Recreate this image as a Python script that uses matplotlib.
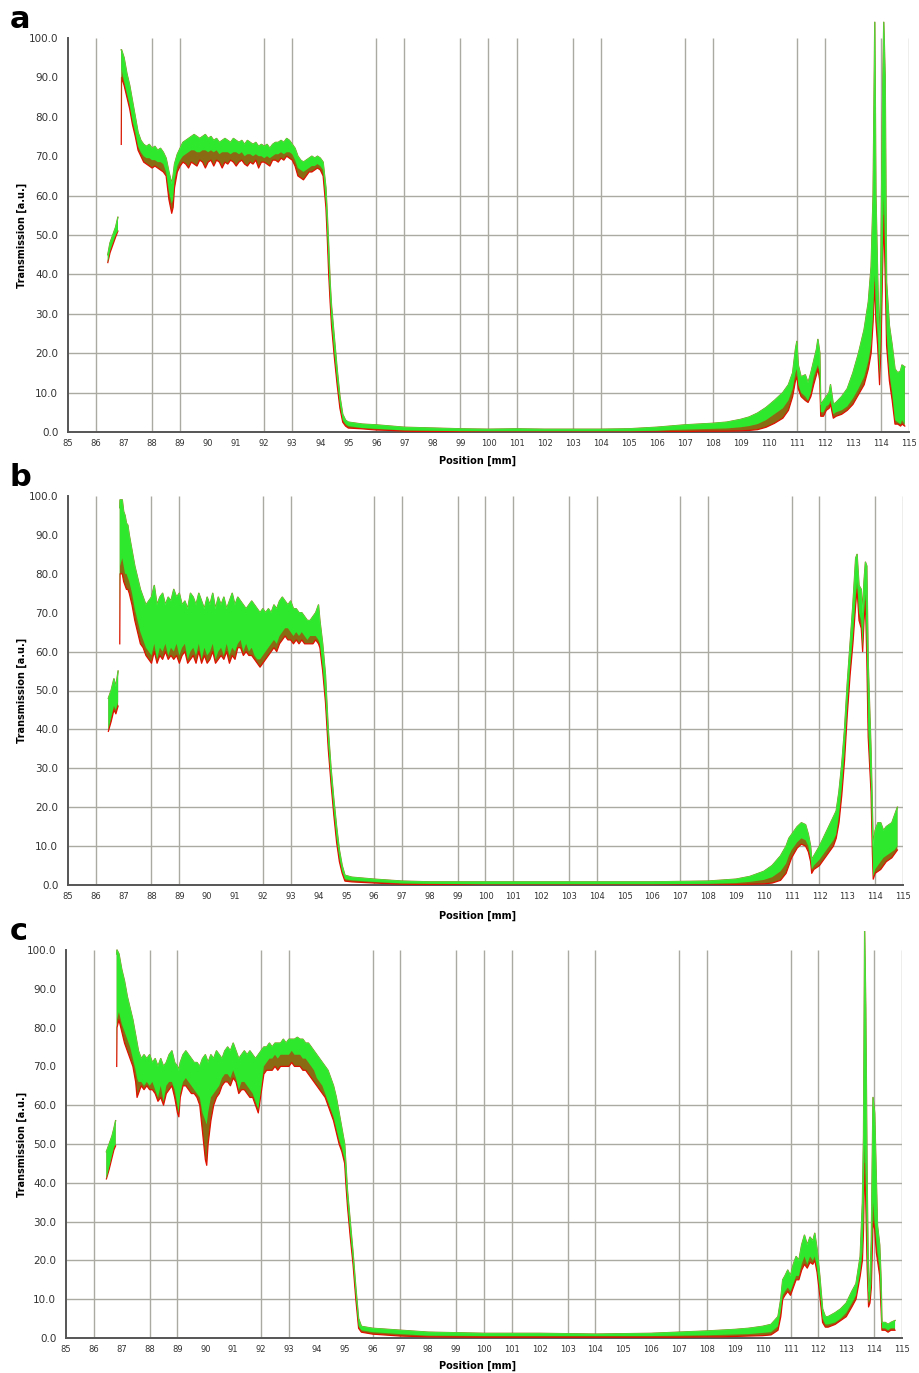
import numpy as np
import matplotlib.pyplot as plt

nan = np.nan

# vertical grid positions (same on all three panels)
grid_x = [86, 88, 89, 92, 93, 96, 97, 99, 100, 101, 103, 104, 107, 108, 111, 112, 114, 115]
grid_y = [10, 20, 30, 40, 50, 60]
x_ticks = list(range(85, 116))
y_ticks = [0, 10, 20, 30, 40, 50, 60, 70, 80, 90, 100]

# ---- panel a ----
a_x = [86.42, 86.5, 86.6, 86.7, 86.78, nan,
       86.9, 86.91, 87.0, 87.1, 87.2, 87.3, 87.4, 87.5, 87.6, 87.7,
       87.8, 87.9, 88.0, 88.1, 88.2, 88.3, 88.4, 88.5, 88.6, 88.7,
       88.75, 88.8, 88.9, 89.0, 89.1, 89.2, 89.3, 89.4, 89.5, 89.6,
       89.7, 89.8, 89.9, 90.0, 90.1, 90.2, 90.3, 90.4, 90.5, 90.6,
       90.7, 90.8, 90.9, 91.0, 91.1, 91.2, 91.3, 91.4, 91.5, 91.6,
       91.7, 91.8, 91.9, 92.0, 92.1, 92.2, 92.3, 92.4, 92.5, 92.6,
       92.7, 92.8, 92.9, 93.0, 93.1, 93.2, 93.3, 93.4, 93.5, 93.6,
       93.7, 93.8, 93.9, 94.0, 94.1, 94.2, 94.25, 94.3, 94.35, 94.4,
       94.5, 94.6, 94.7, 94.8, 94.9, 95.0, 95.5, 96.0, 96.5, 97.0,
       98.0, 99.0, 100.0, 101.0, 102.0, 103.0, 104.0, 105.0, 106.0, 106.5,
       107.0, 107.5, 108.0, 108.5, 109.0, 109.3, 109.6, 109.9, 110.2, 110.5,
       110.7, 110.85, 110.95, 111.0, 111.05, 111.15, 111.3, 111.4, 111.5, 111.6,
       111.7, 111.75, 111.82, 111.85, 111.95, 112.05, 112.15, 112.2, 112.3, 112.4,
       112.6, 112.8, 113.0, 113.2, 113.4, 113.55, 113.65, 113.72, 113.78, 113.82,
       113.88, 113.95, 114.0, 114.05, 114.1, 114.15, 114.2, 114.3, 114.4, 114.5,
       114.6, 114.7, 114.75, 114.85]
a_top = [45, 48, 50, 52, 54.5, nan,
         97, 97, 95, 91, 88, 84, 80, 76, 74, 73,
         72.5, 73, 72, 72.5, 71.5, 72, 71, 69.5, 66, 63,
         65, 68, 70.5, 72, 73.5, 74, 74.5, 75, 75.5, 75,
         74.5, 75, 75.5, 74.5, 75, 74, 74.5, 73.5, 74, 74.5,
         74, 73.5, 74.5, 74, 73.5, 74, 73, 74, 73.5, 73,
         73.5, 72.5, 73, 72.5, 73, 72, 73, 73.5, 73.5, 74,
         73.5, 74.5, 74, 73, 72, 70, 69, 68.5, 69, 69.5,
         70, 69.5, 70, 69.5, 68.5, 62, 55, 47, 38, 32,
         24, 16, 9, 4.5, 3, 2.5, 2, 1.8, 1.5, 1.2,
         1, 0.8, 0.7, 0.8, 0.7, 0.7, 0.7, 0.8, 1.2, 1.5,
         1.8, 2.0, 2.2, 2.5, 3.2, 3.8, 4.8, 6.2, 8.0, 10.0,
         12, 15, 21, 23, 17, 14, 14.5, 12.5, 15, 18,
         21, 23.5, 20, 7, 8, 9, 10, 12, 7, 7.5,
         9, 11, 15, 20, 26, 33, 42, 60, 104, 60,
         40, 20, 45, 80, 104, 90, 38, 27, 22, 16,
         15, 15.5, 17, 16.5]
a_bot = [43, 46, 48, 50, 51, nan,
         73, 92, 89, 86, 83, 79, 76, 72.5, 71, 70,
         69.5, 69.5, 69, 69, 68.5, 68.5, 68, 66, 61, 58,
         59, 64, 67.5, 69, 70, 70.5, 71, 71.5, 71.5, 71,
         71, 71.5, 71.5, 71, 71.5, 71, 71.5, 70.5, 71, 71,
         71, 70.5, 71, 71, 70.5, 71, 70, 70.5, 70.5, 70,
         70.5, 70, 70, 69.5, 70, 69.5, 70, 70.5, 70.5, 71,
         70.5, 71, 71, 70.5, 69, 67, 66.5, 66, 66.5, 67,
         67.5, 67.5, 68, 67.5, 66.5, 58, 50, 42, 34, 28,
         20, 13, 7, 3, 2, 1.5, 1, 0.8, 0.6, 0.4,
         0.3, 0.2, 0.2, 0.2, 0.2, 0.2, 0.2, 0.2, 0.3, 0.5,
         0.6, 0.7, 0.8, 0.9, 1.2, 1.5, 2.0, 3.0, 4.5, 6.0,
         8, 11, 15, 16, 12, 10, 9, 8, 10, 14,
         16, 17, 15, 5, 5, 6.5, 7, 8, 4.5, 5,
         5.5, 6.5, 8.5, 11, 14, 18, 22, 30, 40, 30,
         25, 14, 25, 40, 60, 45, 25, 15, 10, 3,
         2.5, 2, 3, 2]
a_red = [43, 45.5, 47.5, 49.5, 51, nan,
         73, 90, 88, 85, 82, 78, 75, 71.5, 70, 68.5,
         68, 67.5, 67, 67.5, 67, 66.5, 66, 65, 59, 55.5,
         57, 62, 66, 67.5, 68.5, 68, 67, 68.5, 68, 67.5,
         69, 68.5, 67, 68.5, 69, 67.5, 69, 68.5, 67, 68.5,
         68, 69, 68.5, 67.5, 68.5, 69, 68, 67.5, 68.5, 68,
         69, 67, 68.5, 68.5, 68, 67.5, 69, 69, 68.5, 69.5,
         69, 70, 69.5, 69, 67.5, 65, 64.5, 64, 65, 66,
         66, 66.5, 67, 66.5, 65, 57, 49, 40, 33, 27,
         19, 12, 6, 2.5, 1.5, 1, 0.8, 0.5, 0.4, 0.2,
         0.1, 0.1, 0, 0, 0, 0, 0, 0, 0, 0.1,
         0.1, 0.2, 0.2, 0.2, 0.3, 0.4, 0.6, 1.2, 2.2, 3.5,
         5.5, 9, 13, 14, 11, 9, 8, 7.5, 9, 12,
         14.5, 16, 13, 4, 4, 5.5, 6, 7, 3.5, 4,
         4.5, 5.5, 7, 9.5, 12, 16, 20, 28, 38, 28,
         22, 12, 22, 38, 55, 40, 22, 13, 8, 2,
         2, 1.5, 2, 1.5]

# ---- panel b ----
b_x = [86.45, 86.55, 86.65, 86.72, 86.8, nan,
       86.86, 86.87, 86.95, 87.0, 87.05, 87.1, 87.15, 87.2, 87.3, 87.4,
       87.5, 87.6, 87.7, 87.8, 87.9, 88.0, 88.1, 88.2, 88.3, 88.4,
       88.5, 88.6, 88.7, 88.8, 88.9, 89.0, 89.1, 89.2, 89.3, 89.4,
       89.5, 89.6, 89.7, 89.8, 89.9, 90.0, 90.1, 90.2, 90.3, 90.4,
       90.5, 90.6, 90.7, 90.8, 90.9, 91.0, 91.1, 91.2, 91.3, 91.4,
       91.5, 91.6, 91.7, 91.8, 91.9, 92.0, 92.1, 92.2, 92.3, 92.4,
       92.5, 92.6, 92.7, 92.8, 92.9, 93.0, 93.1, 93.2, 93.3, 93.4,
       93.5, 93.6, 93.7, 93.8, 93.9, 94.0, 94.05, 94.15, 94.25, 94.35,
       94.45, 94.55, 94.65, 94.75, 94.85, 94.95, 95.2, 96.0, 97.0, 98.0,
       100, 102, 104, 106, 108, 109, 109.5, 110, 110.3, 110.6,
       110.8, 110.9, 111.0, 111.2, 111.35, 111.5, 111.6, 111.68, 111.72, 111.8,
       112.0, 112.2, 112.4, 112.5, 112.6, 112.7, 112.8, 112.9, 113.0, 113.1,
       113.2, 113.3, 113.35, 113.42, 113.5, 113.55, 113.6, 113.65, 113.7, 113.75,
       113.85, 113.9, 113.93, 114.0, 114.1, 114.2, 114.3, 114.4, 114.5, 114.6,
       114.7, 114.8]
b_top = [48, 50, 53, 51, 55, nan,
         97, 99, 99, 96, 95, 93, 92.5, 90, 86, 82,
         79, 76, 74, 72, 73, 74, 77, 72, 74, 75,
         72, 74, 73, 76, 74, 75, 72, 73, 71, 75,
         74, 72, 75, 73, 71, 74, 72, 75, 71, 74,
         72, 74, 71, 73, 75, 72, 74, 73, 72, 71,
         72, 73, 72, 71, 70, 71, 70, 71, 70, 72,
         71, 73, 74, 73, 72, 73, 71, 71, 70, 70,
         69, 68, 68, 69, 70, 72, 68, 62, 54, 40,
         30, 22, 15, 9, 5, 2.5, 2, 1.5, 1, 0.8,
         0.8, 0.8, 0.8, 0.8, 1, 1.5, 2.2, 3.5, 5, 7.5,
         10, 12, 13, 15, 16, 15.5, 13, 10, 6.5, 7.5,
         10, 13, 16, 17.5, 19, 24, 31, 40, 52, 62,
         72, 84, 85, 77, 76, 70, 78, 83, 82, 57,
         35, 20, 10, 14, 16, 16, 14, 15, 15.5, 16,
         18, 20]
b_bot = [40, 43, 46, 45, 47, nan,
         62, 82, 84, 82, 80, 80, 79, 78, 75, 71,
         68, 65, 63, 61, 60, 59, 62, 58, 61, 60,
         62, 59, 61, 60, 62, 59, 61, 62, 58, 60,
         61, 59, 62, 58, 61, 59, 60, 62, 58, 60,
         61, 59, 62, 59, 61, 60, 62, 63, 60, 62,
         60, 61, 59, 58, 58, 59, 60, 61, 62, 63,
         62, 64, 65, 66, 66, 65, 64, 65, 64, 65,
         64, 63, 64, 64, 64, 63, 62, 56, 48, 36,
         27, 19, 12, 7, 3.5, 1.5, 1.2, 0.8, 0.4, 0.3,
         0.2, 0.2, 0.2, 0.2, 0.3, 0.5, 0.8, 1.3, 2, 3.5,
         5.5, 7.5, 9, 11, 12, 11.5, 10, 7, 4, 5,
         6.5, 8.5, 10.5, 11.5, 13, 18, 25, 34, 46, 56,
         64, 74, 78, 70, 68, 61, 70, 75, 60, 40,
         25, 10, 2, 4, 5, 6, 7, 7.5, 8, 8.5,
         9, 10]
b_red = [39.5, 42, 45, 44, 46, nan,
         62, 80, 80, 78, 77, 76, 76, 75, 72, 68,
         65, 62, 61, 59, 58, 57, 60, 57, 59, 58,
         60, 58, 59, 58, 59, 57, 59, 60, 57, 58,
         59, 57, 60, 57, 59, 57, 58, 60, 57, 58,
         59, 58, 60, 57, 59, 58, 61, 61, 59, 60,
         59, 59, 58, 57, 56, 57, 58, 59, 60, 61,
         60, 62, 63, 64, 63, 63, 62, 63, 62, 63,
         62, 62, 62, 62, 63, 62, 61, 55, 47, 35,
         26, 18, 11, 6, 3, 1, 0.8, 0.5, 0.2, 0.1,
         0, 0, 0, 0, 0, 0.1, 0.2, 0.3, 0.5, 1.2,
         3, 5, 7, 9.5, 10.5, 10, 8.5, 6, 3, 4,
         5, 7, 9, 10, 12, 16, 23, 32, 44, 54,
         62, 72, 76, 68, 66, 60, 68, 73, 58, 38,
         24, 8, 1.5, 3, 3.5, 4, 5, 6, 6.5, 7,
         8, 9]

# ---- panel c ----
c_x = [86.45, 86.55, 86.65, 86.72, 86.78, nan,
       86.82, 86.83, 86.9, 87.0, 87.1, 87.2, 87.3, 87.4, 87.5, 87.55,
       87.6, 87.7, 87.8, 87.9, 88.0, 88.1, 88.2, 88.3, 88.4, 88.5,
       88.6, 88.7, 88.8, 88.9, 89.0, 89.05, 89.1, 89.2, 89.3, 89.4,
       89.5, 89.6, 89.7, 89.8, 89.9, 90.0, 90.05, 90.1, 90.2, 90.3,
       90.4, 90.5, 90.6, 90.7, 90.8, 90.9, 91.0, 91.1, 91.2, 91.3,
       91.4, 91.5, 91.6, 91.7, 91.8, 91.9, 92.0, 92.1, 92.2, 92.3,
       92.4, 92.5, 92.6, 92.7, 92.8, 92.9, 93.0, 93.1, 93.2, 93.3,
       93.4, 93.5, 93.6, 93.7, 93.8, 93.9, 94.0, 94.1, 94.2, 94.3,
       94.4, 94.5, 94.6, 94.7, 94.8, 94.9, 95.0, 95.05, 95.1, 95.2,
       95.3, 95.4, 95.5, 95.6, 96.0, 97.0, 98.0, 100.0, 102.0, 104.0,
       106.0, 107.0, 108.0, 108.5, 109.0, 109.5, 110.0, 110.3, 110.55, 110.65,
       110.72, 110.8, 110.9, 111.0, 111.1, 111.2, 111.3, 111.4, 111.5, 111.6,
       111.7, 111.8, 111.87, 111.95, 112.05, 112.15, 112.25, 112.35, 112.6, 112.8,
       113.0, 113.2, 113.35, 113.5, 113.58, 113.62, 113.66, 113.7, 113.75, 113.8,
       113.85, 113.9, 113.96, 114.02, 114.08, 114.12, 114.2, 114.25, 114.28, 114.4,
       114.5, 114.6, 114.75]
c_top = [48, 50, 52, 54, 56, nan,
         99, 100, 99, 95, 92, 88, 85, 82, 78, 76,
         74, 72, 73, 72, 73, 71, 72, 70, 72, 70,
         71, 73, 74, 71, 70, 69, 71, 73, 74, 73,
         72, 71, 71, 70, 72, 73, 72, 71, 73, 72,
         74, 73, 72, 74, 75, 74, 76, 74, 72, 73,
         74, 73, 74, 73, 72, 73, 74, 75, 75, 76,
         75, 76, 76, 76, 77, 76, 77, 77, 77, 77.5,
         77, 77, 76, 76, 75, 74, 73, 72, 71, 70,
         69, 67, 65, 62, 58, 54, 50, 44, 38, 30,
         22, 13, 5, 3, 2.5, 2, 1.5, 1.2, 1.2, 1,
         1.2, 1.5, 1.8, 2.0, 2.2, 2.5, 3.0, 3.5, 5.5, 10,
         15, 16, 17.5, 16, 19, 21, 20, 24, 26.5, 24,
         26, 25, 27, 23, 16, 7.5, 5.5, 5.5, 6.5, 7.5,
         9, 12, 14, 21, 35, 52, 105, 85, 40, 12,
         15, 25, 62, 58, 40, 29, 24, 15, 4, 4,
         3.5, 4, 4.5]
c_bot = [41, 44, 47, 49, 50, nan,
         70, 82, 84, 81, 79, 77, 75, 72, 69, 67,
         66, 66, 65, 66, 65, 66, 64, 62, 65, 61,
         65, 66, 66, 64, 60, 58, 63, 66, 67, 66,
         65, 64, 63, 62, 58, 56, 55, 58, 62, 63,
         64, 65, 67, 68, 68, 67, 69, 67, 64, 66,
         66, 65, 64, 63, 61, 59, 64, 70, 71, 72,
         72, 73, 72, 73, 73, 73, 73, 74, 73, 73,
         73, 72, 72, 71, 70, 69, 67, 66, 65, 63,
         61, 59, 57, 54, 51, 49, 46, 40, 35, 27,
         20, 11, 3, 2, 1.5, 1, 0.6, 0.5, 0.5, 0.5,
         0.5, 0.6, 0.7, 0.8, 0.9, 1.0, 1.3, 1.5, 3, 7,
         11, 12, 13, 12, 14, 16, 16, 19, 21, 19,
         21, 20, 21, 18, 12, 5, 3.5, 3.5, 4, 5,
         6.5, 9, 11, 17, 22, 30, 50, 40, 20, 9,
         10, 14, 35, 30, 25, 22, 18, 8, 2.5, 2.5,
         2, 2.5, 2.5]
c_red = [41, 43.5, 46.5, 48.5, 49.5, nan,
         70, 80, 82, 79, 76, 74, 72, 70, 66, 62,
         63, 65, 64, 65, 64, 64, 63, 61, 62, 60,
         63, 64, 65, 62, 58, 57, 62, 65, 65, 64,
         63, 63, 62, 60, 53, 46, 44.5, 50, 56, 60,
         62, 63, 65, 66, 66, 65, 67, 66, 63, 64,
         64, 63, 62, 62, 60, 58, 63, 68, 69, 69,
         69, 70, 69, 70, 70, 70, 70, 71, 70, 70,
         70, 69, 69, 68, 67, 66, 65, 64, 63, 62,
         60, 58, 56, 53, 50, 48, 45, 39, 34, 26,
         19, 10, 2.5, 1.5, 1, 0.5, 0.3, 0.2, 0.2, 0.2,
         0.2, 0.2, 0.3, 0.3, 0.4, 0.5, 0.6, 0.8, 2, 5.5,
         10, 11, 12, 11, 13, 15, 15, 17.5, 19, 18,
         19.5, 19, 20, 17, 11, 4, 2.8, 2.8, 3.5, 4.5,
         5.5, 8, 10, 16, 20, 28, 45, 35, 18, 8,
         9, 13, 30, 28, 22, 20, 16, 7, 2, 2,
         1.5, 2, 2]

panels = [
    ("a", [68 / 919, 1 - 432 / 1373, 841 / 919, 105 * 3.94 / 1373], a_x, a_top, a_bot, a_red),
    ("b", [68 / 919, 1 - 885 / 1373, 835 / 919, 105 * 3.89 / 1373], b_x, b_top, b_bot, b_red),
    ("c", [66 / 919, 1 - 1338 / 1373, 836 / 919, 105 * 3.88 / 1373], c_x, c_top, c_bot, c_red),
]

fig = plt.figure(figsize=(9.19, 13.73), dpi=100)

for letter, rect, x, top, bot, red in panels:
    ax = fig.add_axes(rect)
    x = np.array(x, dtype=float)
    top = np.array(top, dtype=float)
    bot = np.array(bot, dtype=float)
    red = np.array(red, dtype=float)

    # grid
    ax.vlines(grid_x, 0, 100, color="#aaaaa2", lw=1.0, zorder=0)
    ax.hlines(grid_y, 85, 115, color="#aaaaa2", lw=1.0, zorder=0)

    # red / brown traces underneath, green traces on top
    ax.fill_between(x, red, top, color="#8a6a12", lw=0, zorder=2)
    ax.plot(x, red, color="#e01000", lw=0.9, zorder=3)
    ax.plot(x, top, color="#8a7a14", lw=1.0, zorder=3)
    ax.fill_between(x, bot, top, color="#2ee82e", lw=0, zorder=4)
    ax.plot(x, top, color="#45f045", lw=0.5, zorder=5)

    ax.set_xlim(85, 115)
    ax.set_ylim(0, 105)
    ax.set_xticks(x_ticks)
    ax.set_xticklabels([str(v) for v in x_ticks])
    ax.set_yticks(y_ticks)
    ax.set_yticklabels([f"{v:.1f}" for v in y_ticks])
    ax.tick_params(axis="y", length=0, labelsize=7.5, colors="#333333", pad=7)
    ax.tick_params(axis="x", length=0, labelsize=6, colors="#333333", pad=5)

    for s in ["top", "right"]:
        ax.spines[s].set_visible(False)
    ax.spines["left"].set_bounds(0, 100)
    ax.spines["left"].set_color("#555555")
    ax.spines["left"].set_linewidth(1.4)
    ax.spines["bottom"].set_color("#555555")
    ax.spines["bottom"].set_linewidth(1.4)
    ax.patch.set_alpha(0)

# panel letters and axis titles
fig.text(10 / 919, 1 - 20 / 1373, "a", fontsize=22, fontweight="bold", va="center")
fig.text(10 / 919, 1 - 478 / 1373, "b", fontsize=22, fontweight="bold", va="center")
fig.text(10 / 919, 1 - 932 / 1373, "c", fontsize=22, fontweight="bold", va="center")

for yc in [235, 690, 1144]:
    fig.text(22 / 919, 1 - yc / 1373, "Transmission [a.u.]", rotation=90,
             fontsize=7, fontweight="bold", ha="center", va="center")
for yc, xc in [(461, 478), (916, 478), (1366, 478)]:
    fig.text(xc / 919, 1 - yc / 1373, "Position [mm]",
             fontsize=7, fontweight="bold", ha="center", va="center")

fig.savefig("out.png", dpi=100)
